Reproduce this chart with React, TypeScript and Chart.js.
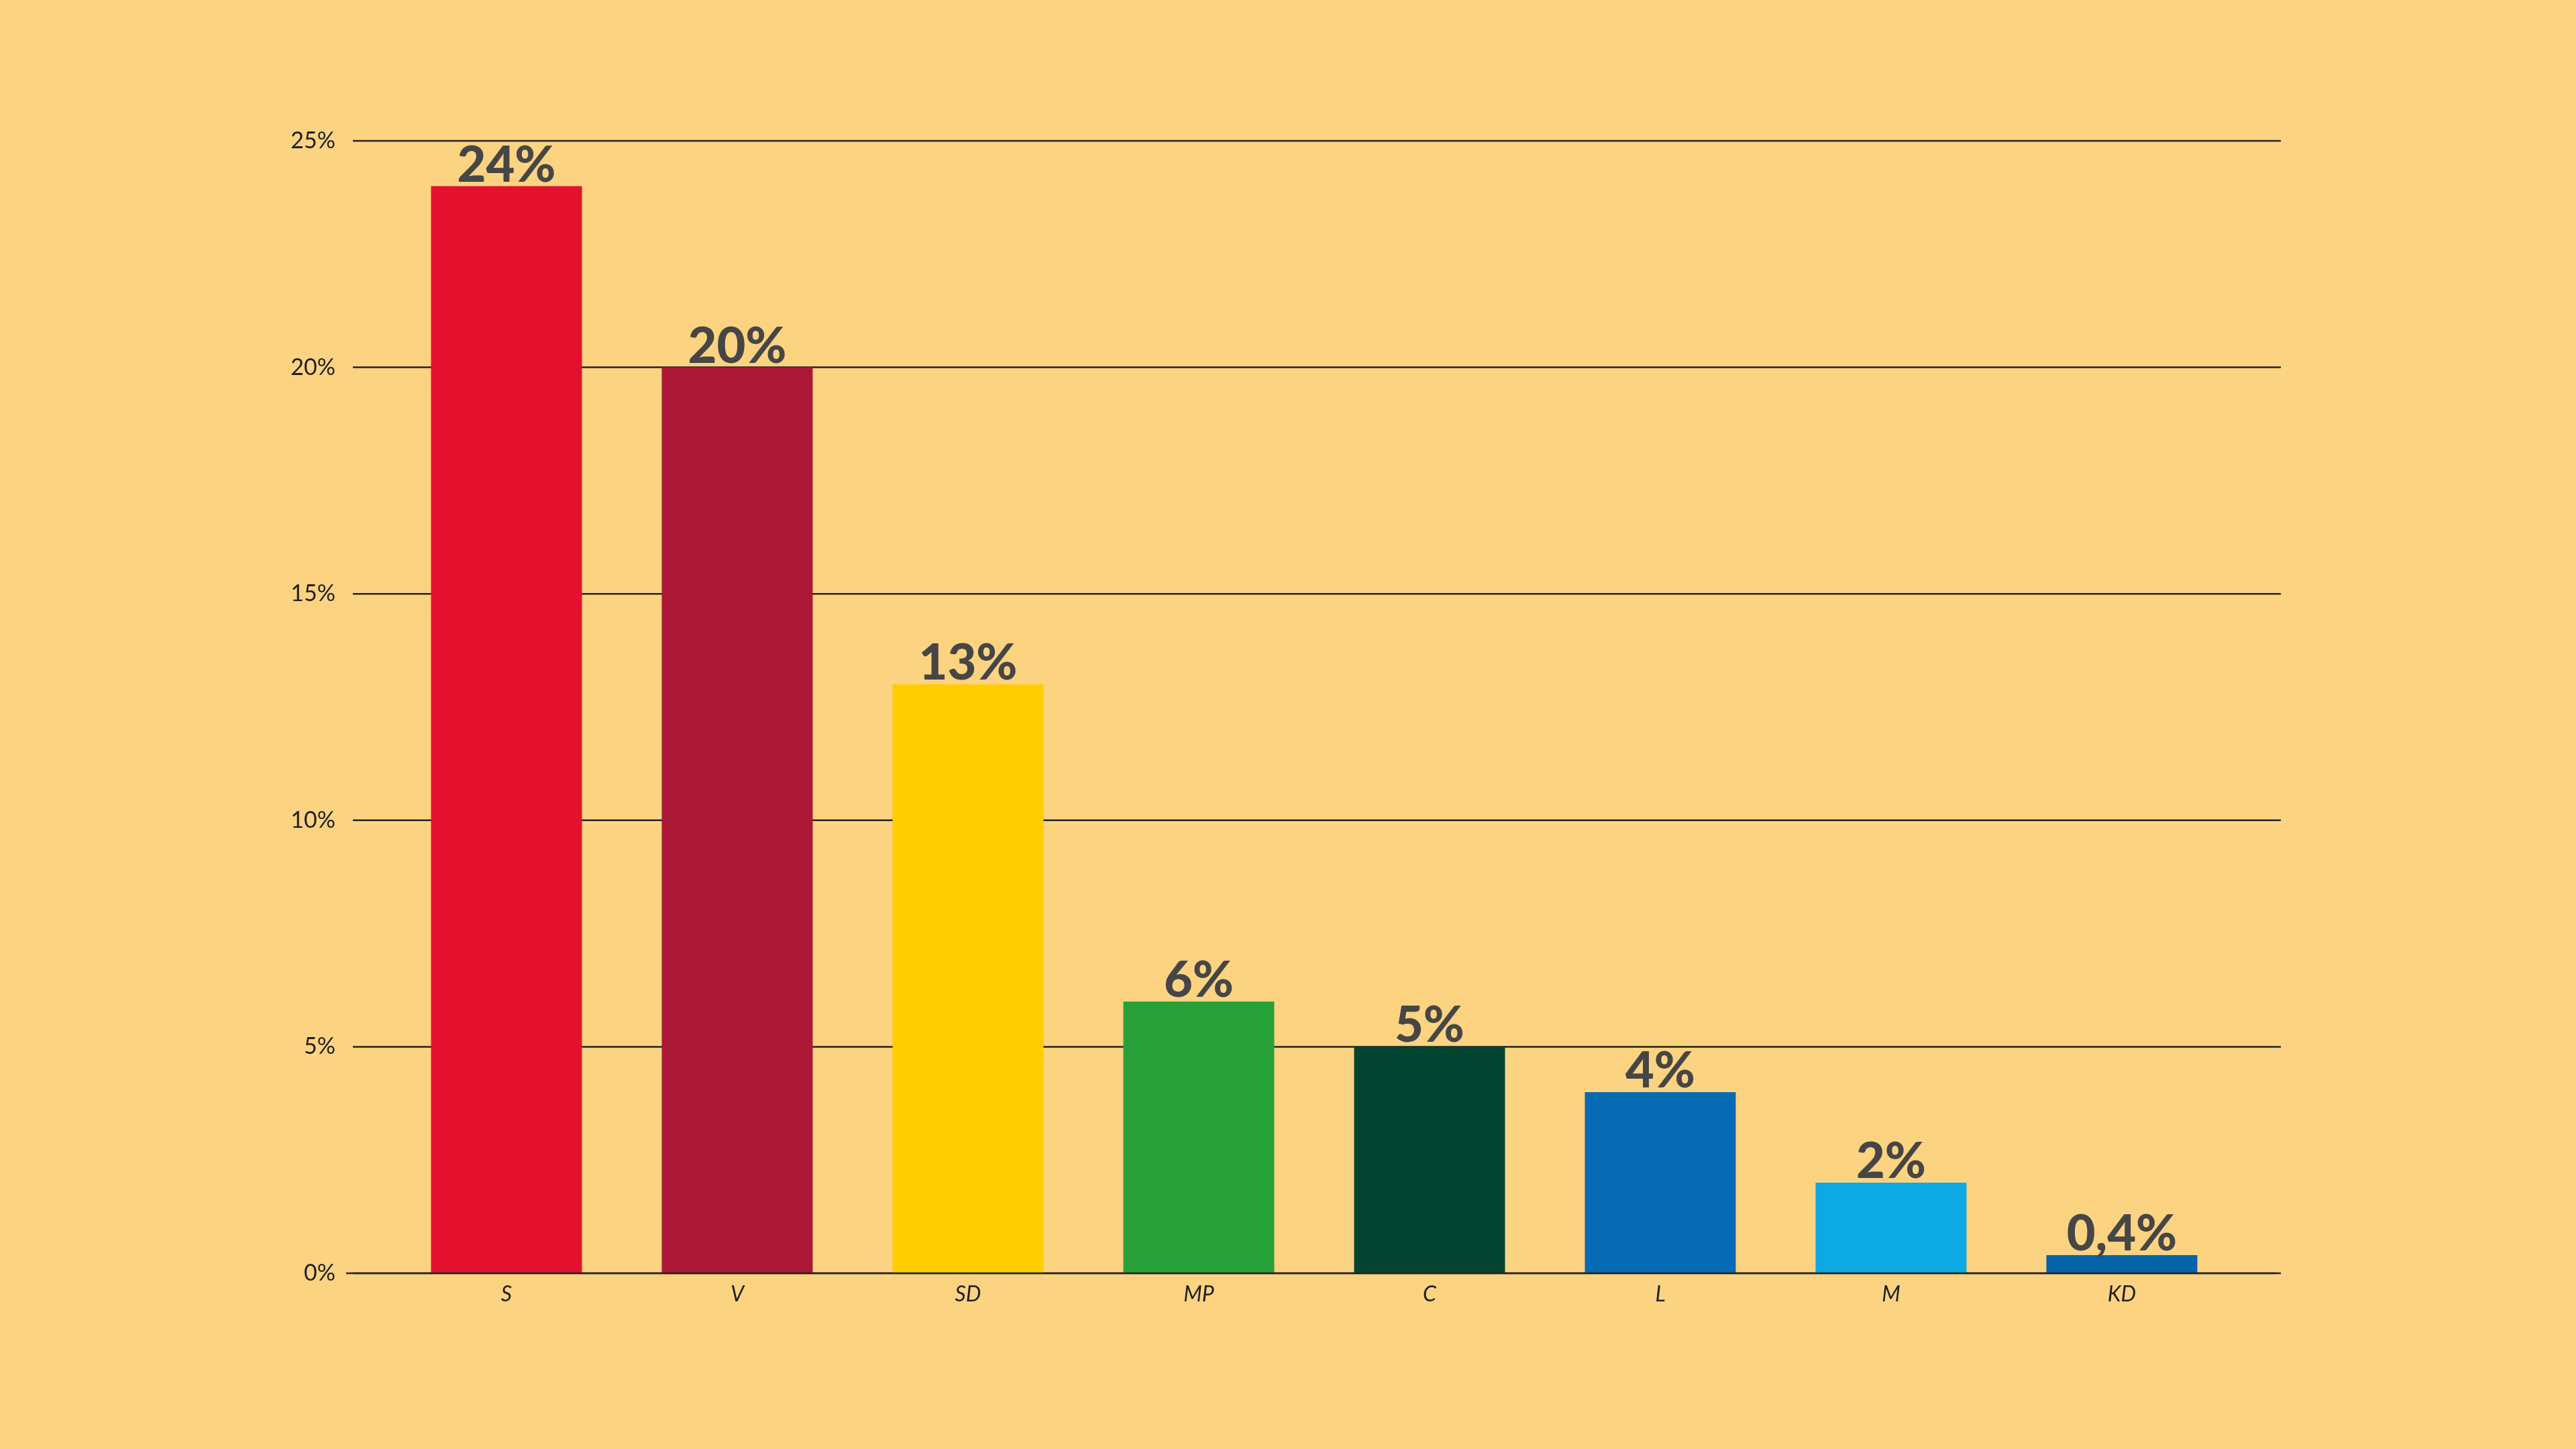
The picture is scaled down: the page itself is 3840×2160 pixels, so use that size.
import React, { useEffect, useRef } from "react";
import { Chart, registerables } from "chart.js";

Chart.register(...registerables);

const categories = ["S", "V", "SD", "MP", "C", "L", "M", "KD"];
const values = [24, 20, 13, 6, 5, 4, 2, 0.4];
const valueLabels = ["24%", "20%", "13%", "6%", "5%", "4%", "2%", "0,4%"];
const barColors = ["#E3102E", "#AB1835", "#FFCC00", "#28A138", "#034332", "#066BB4", "#0CA9E2", "#0762A8"];
const yTicks = [0, 5, 10, 15, 20, 25];
const yTickLabels = ["0%", "5%", "10%", "15%", "20%", "25%"];

const BG = "#FCD381";

const gridPlugin = {
  id: "handGrid",
  beforeDatasetsDraw(chart: any) {
    const ctx = chart.ctx;
    const y = chart.scales.y;
    ctx.save();
    ctx.strokeStyle = "#222222";
    ctx.lineWidth = 2.5;
    yTicks.forEach((t) => {
      const py = y.getPixelForValue(t);
      ctx.beginPath();
      ctx.moveTo(526, py);
      ctx.lineTo(3400, py);
      ctx.stroke();
    });
    ctx.restore();
  },
  afterDatasetsDraw(chart: any) {
    const ctx = chart.ctx;
    const y = chart.scales.y;
    const py = y.getPixelForValue(0);
    ctx.save();
    ctx.strokeStyle = "#222222";
    ctx.lineWidth = 2.5;
    ctx.beginPath();
    ctx.moveTo(516, py);
    ctx.lineTo(3394, py);
    ctx.stroke();
    ctx.restore();
  },
};

const labelPlugin = {
  id: "valueLabels",
  afterDatasetsDraw(chart: any) {
    const ctx = chart.ctx;
    const meta = chart.getDatasetMeta(0);
    ctx.save();
    ctx.fillStyle = "#464646";
    ctx.font = "900 74px Lato";
    ctx.textAlign = "center";
    ctx.textBaseline = "alphabetic";
    meta.data.forEach((bar: any, i: number) => {
      ctx.fillText(valueLabels[i], bar.x, bar.y - 7);
    });
    ctx.restore();
  },
};

const bgPlugin = {
  id: "bg",
  beforeDraw(chart: any) {
    const ctx = chart.ctx;
    ctx.save();
    ctx.fillStyle = BG;
    ctx.fillRect(0, 0, chart.width, chart.height);
    ctx.restore();
  },
};

export default function App() {
  const ref = useRef<HTMLCanvasElement | null>(null);
  useEffect(() => {
    if (!ref.current) return;
    const chart = new Chart(ref.current, {
      type: "bar",
      data: {
        labels: categories,
        datasets: [
          {
            data: values,
            backgroundColor: barColors,
            borderWidth: 0,
            categoryPercentage: 1,
            barPercentage: 0.654,
          },
        ],
      },
      options: {
        animation: false,
        responsive: false,
        maintainAspectRatio: false,
        layout: { padding: { left: 433, right: 3840 - 3335, top: 210, bottom: 0 } },
        plugins: { legend: { display: false }, tooltip: { enabled: false } },
        scales: {
          x: {
            grid: { display: false, drawTicks: false },
            border: { display: false },
            ticks: {
              padding: 12,
              color: "#1E1E1E",
              font: { family: "Lato", size: 32, style: "italic" },
            },
            afterFit: (scale: any) => {
              scale.height = 2160 - 1898;
            },
          },
          y: {
            min: 0,
            max: 25,
            grid: { display: false, drawTicks: false },
            border: { display: false },
            afterBuildTicks: (scale: any) => {
              scale.ticks = yTicks.map((v) => ({ value: v }));
            },
            ticks: {
              padding: 83,
              color: "#1E1E1E",
              font: { family: "Lato", size: 34 },
              callback: (v: any) => yTickLabels[yTicks.indexOf(Number(v))] ?? "",
            },
            afterFit: (scale: any) => {
              scale.width = 150;
            },
          },
        },
      },
      plugins: [bgPlugin, gridPlugin, labelPlugin],
    });
    return () => chart.destroy();
  }, []);
  return (
    <div style={{ position: "absolute", left: 0, top: 0, width: 3840, height: 2160, background: BG }}>
      <canvas ref={ref} width={3840} height={2160} style={{ width: 3840, height: 2160, display: "block" }} />
    </div>
  );
}
